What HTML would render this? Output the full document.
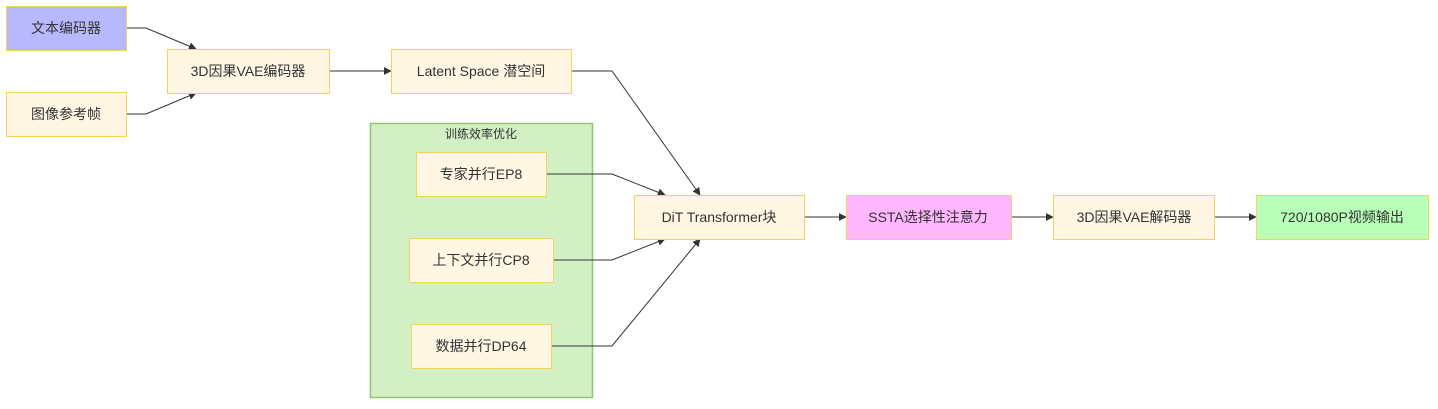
<!DOCTYPE html>
<html><head><meta charset="utf-8"><style>
html,body{margin:0;padding:0;background:#fff;}
svg text{font-family:"Liberation Sans","Noto Sans CJK SC",sans-serif;font-size:14px;fill:#333;text-anchor:middle;dominant-baseline:central;}
</style></head><body>
<svg width="1438" height="404" viewBox="0 0 1438 404" xmlns="http://www.w3.org/2000/svg">
<defs><marker id="a" viewBox="0 0 10 10" refX="9" refY="5" markerWidth="8" markerHeight="8" orient="auto"><path d="M0,0L10,5L0,10z" fill="#333"/></marker></defs>
<rect x="370.5" y="123.5" width="222" height="274" fill="#d2f0c4" stroke="#90c76f" stroke-width="1.5"/>
<text x="481" y="134" style="font-size:12px">训练效率优化</text>
<g fill="none" stroke="#333" stroke-width="1" marker-end="url(#a)">
<path d="M126,28H146L196,49"/>
<path d="M126,114H146L196,93"/>
<path d="M329,71H391"/>
<path d="M571,71H612L700,195"/>
<path d="M546,174H612L665,195"/>
<path d="M553,260H612L665,239"/>
<path d="M551,346H612L700,239"/>
<path d="M804,217H846"/>
<path d="M1011,217H1053"/>
<path d="M1214,217H1256"/>
</g>
<g stroke="#f5d25c" stroke-width="1">
<rect x="6.5" y="6.5" width="120" height="44" fill="#b8b8ff"/>
<rect x="6.5" y="92.5" width="120" height="44" fill="#fff6e4"/>
<rect x="167.5" y="49.5" width="162" height="44" fill="#fff6e4"/>
<rect x="391.5" y="49.5" width="180" height="44" fill="#fff6e4"/>
<rect x="416.5" y="152.5" width="130" height="44" fill="#fff6e4"/>
<rect x="409.5" y="238.5" width="144" height="44" fill="#fff6e4"/>
<rect x="411.5" y="324.5" width="140" height="44" fill="#fff6e4"/>
<rect x="634.5" y="195.5" width="170" height="44" fill="#fff6e4"/>
<rect x="846.5" y="195.5" width="165" height="44" fill="#ffb8ff"/>
<rect x="1053.5" y="195.5" width="161" height="44" fill="#fff6e4"/>
<rect x="1256.5" y="195.5" width="172" height="44" fill="#b8ffb8"/>
</g>
<text x="66" y="28">文本编码器</text>
<text x="66" y="114">图像参考帧</text>
<text x="248" y="71">3D因果VAE编码器</text>
<text x="481" y="71">Latent Space 潜空间</text>
<text x="481" y="174">专家并行EP8</text>
<text x="481" y="260">上下文并行CP8</text>
<text x="481" y="346">数据并行DP64</text>
<text x="719" y="217">DiT Transformer块</text>
<text x="928" y="217">SSTA选择性注意力</text>
<text x="1134" y="217">3D因果VAE解码器</text>
<text x="1342" y="217">720/1080P视频输出</text>
</svg>
</body></html>
